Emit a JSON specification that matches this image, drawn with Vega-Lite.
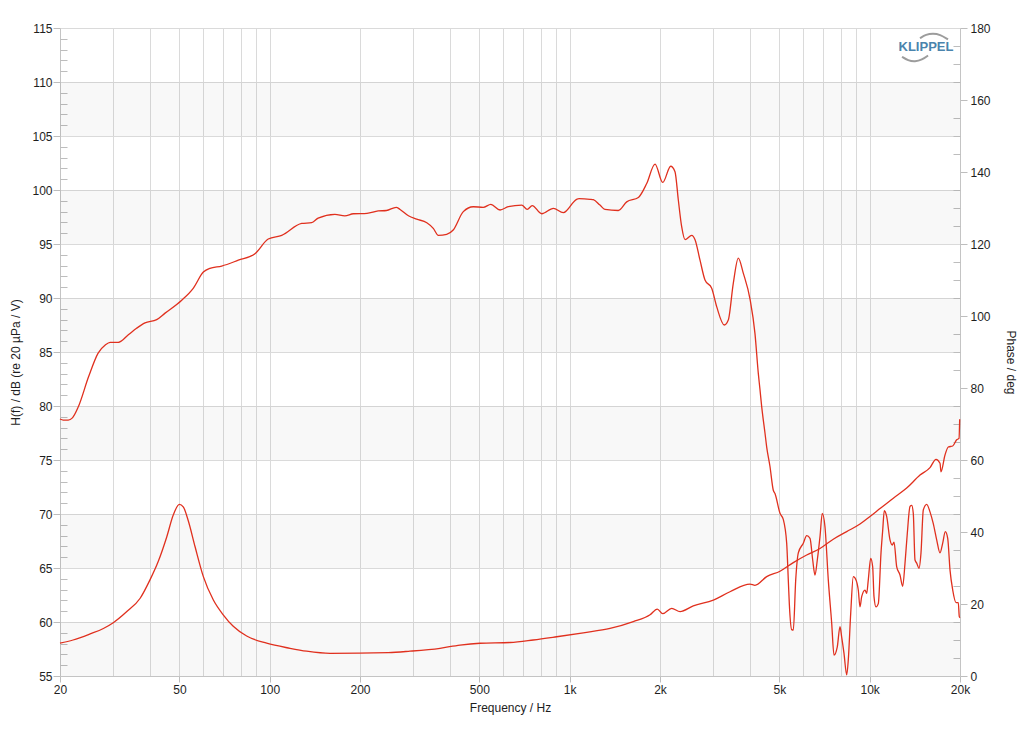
{
  "$schema": "https://vega.github.io/schema/vega-lite/v6.json",
  "width": 900,
  "height": 648,
  "autosize": {"type": "none"},
  "padding": {"left": 60, "top": 28, "right": 68, "bottom": 54},
  "background": "white",
  "config": {
    "view": {"stroke": null},
    "axis": {
      "labelFont": "Liberation Sans",
      "titleFont": "Liberation Sans",
      "labelFontSize": 12,
      "titleFontSize": 12,
      "labelColor": "#1e1e1e",
      "titleColor": "#1e1e1e",
      "titleFontWeight": "normal",
      "domainColor": "#c4c4c4",
      "tickColor": "#bdbdbd",
      "gridColor": "#dadada",
      "labelFlush": false,
      "labelOverlap": false,
      "labelBound": false
    }
  },
  "datasets": {
    "bands": [
      {"lo": 55, "hi": 60}, {"lo": 65, "hi": 70}, {"lo": 75, "hi": 80},
      {"lo": 85, "hi": 90}, {"lo": 95, "hi": 100}, {"lo": 105, "hi": 110}
    ],
    "spl": [
      {"f": 20, "db": 78.8}, {"f": 20.5, "db": 78.7}, {"f": 21.3, "db": 78.7}, {"f": 22, "db": 78.9},
      {"f": 23, "db": 79.9}, {"f": 24.9, "db": 82.7}, {"f": 26.8, "db": 84.9}, {"f": 28.3, "db": 85.65},
      {"f": 29.4, "db": 85.9}, {"f": 31.3, "db": 85.9}, {"f": 33.8, "db": 86.6}, {"f": 36, "db": 87.2},
      {"f": 38.4, "db": 87.7}, {"f": 42, "db": 88.0}, {"f": 44.8, "db": 88.6}, {"f": 50.9, "db": 89.8},
      {"f": 55.6, "db": 90.9}, {"f": 60.1, "db": 92.4}, {"f": 63.2, "db": 92.75}, {"f": 69.2, "db": 92.96},
      {"f": 78.6, "db": 93.5}, {"f": 89.3, "db": 94.1}, {"f": 98.9, "db": 95.46}, {"f": 109.7, "db": 95.8},
      {"f": 127.9, "db": 96.9}, {"f": 138, "db": 96.97}, {"f": 145, "db": 97.4}, {"f": 165, "db": 97.75},
      {"f": 178, "db": 97.6}, {"f": 190, "db": 97.8}, {"f": 211, "db": 97.84}, {"f": 230, "db": 98.06},
      {"f": 245, "db": 98.1}, {"f": 264, "db": 98.4}, {"f": 272, "db": 98.2}, {"f": 290, "db": 97.62},
      {"f": 309, "db": 97.3}, {"f": 334, "db": 96.97}, {"f": 351, "db": 96.45}, {"f": 365, "db": 95.8},
      {"f": 389, "db": 95.9}, {"f": 409, "db": 96.3}, {"f": 442, "db": 98.0}, {"f": 477, "db": 98.45},
      {"f": 515, "db": 98.4}, {"f": 546, "db": 98.67}, {"f": 586, "db": 98.15}, {"f": 624, "db": 98.45},
      {"f": 692, "db": 98.6}, {"f": 722, "db": 98.2}, {"f": 750, "db": 98.55}, {"f": 807, "db": 97.8},
      {"f": 882, "db": 98.3}, {"f": 952, "db": 97.9}, {"f": 1055, "db": 99.14}, {"f": 1074, "db": 99.2},
      {"f": 1169, "db": 99.14}, {"f": 1199, "db": 99.1}, {"f": 1262, "db": 98.6}, {"f": 1311, "db": 98.2},
      {"f": 1452, "db": 98.1}, {"f": 1549, "db": 98.9}, {"f": 1694, "db": 99.3}, {"f": 1806, "db": 100.6},
      {"f": 1925, "db": 102.4}, {"f": 2042, "db": 100.7}, {"f": 2171, "db": 102.2}, {"f": 2244, "db": 101.7},
      {"f": 2302, "db": 99.07}, {"f": 2362, "db": 96.6}, {"f": 2424, "db": 95.4}, {"f": 2552, "db": 95.8},
      {"f": 2617, "db": 95.4}, {"f": 2719, "db": 93.5}, {"f": 2825, "db": 91.67}, {"f": 2974, "db": 90.9},
      {"f": 3090, "db": 89.2}, {"f": 3276, "db": 87.5}, {"f": 3378, "db": 87.96}, {"f": 3510, "db": 91.36},
      {"f": 3648, "db": 93.7}, {"f": 3790, "db": 92.3}, {"f": 3991, "db": 89.9}, {"f": 4146, "db": 86.7},
      {"f": 4254, "db": 83.0}, {"f": 4309, "db": 81.5}, {"f": 4365, "db": 79.94}, {"f": 4477, "db": 77.5},
      {"f": 4536, "db": 76.2}, {"f": 4652, "db": 74.4}, {"f": 4772, "db": 72.2}, {"f": 4834, "db": 71.9},
      {"f": 5024, "db": 70.06}, {"f": 5152, "db": 69.5}, {"f": 5288, "db": 67.3}, {"f": 5354, "db": 63.9},
      {"f": 5396, "db": 61.7}, {"f": 5495, "db": 59.3}, {"f": 5564, "db": 59.26}, {"f": 5668, "db": 63.9},
      {"f": 5782, "db": 66.4}, {"f": 6008, "db": 67.3}, {"f": 6166, "db": 68.0}, {"f": 6325, "db": 67.75},
      {"f": 6457, "db": 65.74}, {"f": 6572, "db": 64.35}, {"f": 6689, "db": 65.74}, {"f": 6829, "db": 67.9},
      {"f": 6950, "db": 70.06}, {"f": 7096, "db": 68.8}, {"f": 7278, "db": 63.9}, {"f": 7470, "db": 59.9},
      {"f": 7604, "db": 56.94}, {"f": 7798, "db": 57.7}, {"f": 7962, "db": 59.56}, {"f": 8066, "db": 58.6},
      {"f": 8210, "db": 57.1}, {"f": 8382, "db": 55.1}, {"f": 8486, "db": 56.5}, {"f": 8644, "db": 60.8},
      {"f": 8818, "db": 64.2}, {"f": 9003, "db": 63.9}, {"f": 9162, "db": 62.96}, {"f": 9283, "db": 61.4},
      {"f": 9404, "db": 62.35}, {"f": 9646, "db": 62.96}, {"f": 9773, "db": 62.65}, {"f": 9893, "db": 63.9},
      {"f": 10078, "db": 65.9}, {"f": 10233, "db": 65.1}, {"f": 10336, "db": 62.35}, {"f": 10496, "db": 61.4},
      {"f": 10683, "db": 61.7}, {"f": 10907, "db": 66.4}, {"f": 11050, "db": 68.5}, {"f": 11187, "db": 70.3},
      {"f": 11395, "db": 69.75}, {"f": 11687, "db": 67.6}, {"f": 11894, "db": 67.13}, {"f": 12052, "db": 67.4},
      {"f": 12305, "db": 65.1}, {"f": 12619, "db": 64.35}, {"f": 12883, "db": 63.3}, {"f": 13114, "db": 65.45},
      {"f": 13346, "db": 68.2}, {"f": 13626, "db": 70.7}, {"f": 13804, "db": 70.8}, {"f": 13974, "db": 70.06},
      {"f": 14159, "db": 65.74}, {"f": 14346, "db": 65.45}, {"f": 14600, "db": 64.97}, {"f": 14826, "db": 66.4},
      {"f": 15091, "db": 70.37}, {"f": 15490, "db": 70.9}, {"f": 15887, "db": 70.2}, {"f": 16293, "db": 69.1},
      {"f": 16724, "db": 67.6}, {"f": 17154, "db": 66.4}, {"f": 17514, "db": 67.3}, {"f": 17868, "db": 68.36},
      {"f": 18200, "db": 67.75}, {"f": 18525, "db": 64.8}, {"f": 18914, "db": 62.96}, {"f": 19398, "db": 61.8},
      {"f": 19740, "db": 61.8}, {"f": 19894, "db": 60.5}, {"f": 20000, "db": 60.4}
    ],
    "imp": [
      {"f": 20, "deg": 9.1}, {"f": 22.1, "deg": 10.0}, {"f": 25.2, "deg": 11.7}, {"f": 27.9, "deg": 13.2},
      {"f": 30.1, "deg": 14.8}, {"f": 33.4, "deg": 17.9}, {"f": 37, "deg": 21.6}, {"f": 39.9, "deg": 26.7},
      {"f": 42.5, "deg": 31.8}, {"f": 45.4, "deg": 38.7}, {"f": 47.7, "deg": 44.7}, {"f": 50, "deg": 47.7},
      {"f": 51.5, "deg": 47.0}, {"f": 53.5, "deg": 43.2}, {"f": 56.4, "deg": 35.9}, {"f": 60.1, "deg": 27.6},
      {"f": 64.9, "deg": 21.1}, {"f": 70, "deg": 17.0}, {"f": 75.6, "deg": 13.8}, {"f": 83.8, "deg": 11.1},
      {"f": 97.7, "deg": 9.1}, {"f": 116.9, "deg": 7.7}, {"f": 132.8, "deg": 6.9}, {"f": 158.9, "deg": 6.3},
      {"f": 248.6, "deg": 6.5}, {"f": 293.6, "deg": 6.9}, {"f": 369.6, "deg": 7.7}, {"f": 430.9, "deg": 8.6},
      {"f": 502.4, "deg": 9.1}, {"f": 632.5, "deg": 9.3}, {"f": 756.2, "deg": 10.0}, {"f": 905.2, "deg": 10.9},
      {"f": 1110, "deg": 12.0}, {"f": 1363, "deg": 13.2}, {"f": 1629, "deg": 15.1}, {"f": 1853, "deg": 17.0},
      {"f": 1959, "deg": 18.6}, {"f": 2042, "deg": 17.3}, {"f": 2188, "deg": 18.8}, {"f": 2333, "deg": 17.9},
      {"f": 2582, "deg": 19.5}, {"f": 3012, "deg": 21.1}, {"f": 3422, "deg": 23.4}, {"f": 3991, "deg": 25.5},
      {"f": 4146, "deg": 25.2}, {"f": 4536, "deg": 27.6}, {"f": 5024, "deg": 29.1}, {"f": 5564, "deg": 31.5},
      {"f": 6166, "deg": 33.6}, {"f": 6829, "deg": 35.4}, {"f": 7562, "deg": 38.0}, {"f": 8382, "deg": 40.1},
      {"f": 9283, "deg": 42.2}, {"f": 10024, "deg": 44.3}, {"f": 10823, "deg": 46.5}, {"f": 11990, "deg": 49.4},
      {"f": 13284, "deg": 52.2}, {"f": 14712, "deg": 55.8}, {"f": 15887, "deg": 57.9}, {"f": 16636, "deg": 60.2},
      {"f": 17154, "deg": 59.1}, {"f": 17286, "deg": 56.7}, {"f": 17825, "deg": 61.4}, {"f": 18281, "deg": 63.6},
      {"f": 18914, "deg": 63.9}, {"f": 19500, "deg": 65.6}, {"f": 19848, "deg": 66.0}, {"f": 19950, "deg": 71.3}
    ],
    "logo": [{"f": 15405, "deg": 174.6, "t": "KLIPPEL"}],
    "arcs": [
      {"g": "up", "f": 14712, "db": 114.05}, {"g": "up", "f": 15405, "db": 114.4}, {"g": "up", "f": 16255, "db": 114.5},
      {"g": "up", "f": 17154, "db": 114.4}, {"g": "up", "f": 18240, "db": 113.95},
      {"g": "lo", "f": 12816, "db": 112.34}, {"g": "lo", "f": 13420, "db": 111.99}, {"g": "lo", "f": 14159, "db": 111.88},
      {"g": "lo", "f": 14940, "db": 112.06}, {"g": "lo", "f": 15650, "db": 112.45}
    ]
  },
  "resolve": {"scale": {"y": "independent"}, "axis": {"y": "independent"}},
  "layer": [
    {
      "data": {"name": "bands"},
      "mark": {"type": "rect", "fill": "#000000", "fillOpacity": 0.028},
      "encoding": {
        "y": {
          "field": "lo", "type": "quantitative",
          "scale": {"domain": [55, 115], "nice": false, "zero": false},
          "axis": {
            "orient": "left",
            "values": [55, 60, 65, 70, 75, 80, 85, 90, 95, 100, 105, 110, 115],
            "grid": true, "tickSize": 7, "labelPadding": 1,
            "title": "H(f) / dB (re 20 µPa / V)",
            "titleX": -45, "titleY": 334, "titleBaseline": "middle", "titleAngle": -90, "titleAlign": "center"
          }
        },
        "y2": {"field": "hi"}
      }
    },
    {
      "data": {"name": "spl"},
      "mark": {"type": "line", "color": "#e0301e", "strokeWidth": 1.3, "interpolate": "monotone"},
      "encoding": {
        "x": {
          "field": "f", "type": "quantitative",
          "scale": {"type": "log", "domain": [20, 20000], "nice": false},
          "axis": {
            "values": [20, 30, 40, 50, 60, 70, 80, 90, 100, 200, 300, 400, 500, 600, 700, 800, 900, 1000, 2000, 3000, 4000, 5000, 6000, 7000, 8000, 9000, 10000, 20000],
            "labelExpr": "indexof([20,50,100,200,500],datum.value)>=0 ? datum.value+'' : (indexof([1000,2000,5000,10000,20000],datum.value)>=0 ? (datum.value/1000)+'k' : '')",
            "grid": true, "tickSize": 6, "labelPadding": 2,
            "tickOpacity": {"condition": {"test": "indexof([20,50,100,200,500,1000,2000,5000,10000,20000],datum.value)>=0", "value": 1}, "value": 0},
            "title": "Frequency / Hz", "titlePadding": 7
          }
        },
        "y": {
          "field": "db", "type": "quantitative",
          "scale": {"domain": [55, 115], "nice": false, "zero": false},
          "axis": {
            "orient": "left",
            "values": [56, 57, 58, 59, 61, 62, 63, 64, 66, 67, 68, 69, 71, 72, 73, 74, 76, 77, 78, 79, 81, 82, 83, 84, 86, 87, 88, 89, 91, 92, 93, 94, 96, 97, 98, 99, 101, 102, 103, 104, 106, 107, 108, 109, 111, 112, 113, 114],
            "tickSize": -7, "labels": false, "domain": false, "grid": false, "title": null
          }
        }
      }
    },
    {
      "data": {"name": "imp"},
      "mark": {"type": "line", "color": "#e0301e", "strokeWidth": 1.3, "interpolate": "monotone"},
      "encoding": {
        "x": {"field": "f", "type": "quantitative", "scale": {"type": "log", "domain": [20, 20000], "nice": false}},
        "y": {
          "field": "deg", "type": "quantitative",
          "scale": {"domain": [0, 180], "nice": false, "zero": false},
          "axis": {
            "orient": "right",
            "values": [0, 20, 40, 60, 80, 100, 120, 140, 160, 180],
            "grid": false, "tickSize": 7, "labelPadding": 3,
            "title": "Phase / deg", "titleAngle": 90, "titleX": 50, "titleY": 334, "titleBaseline": "middle", "titleAlign": "center"
          }
        }
      }
    },
    {
      "data": {"name": "logo"},
      "mark": {"type": "text", "font": "Liberation Sans", "fontWeight": "bold", "fontSize": 13, "color": "#4a84ad"},
      "encoding": {
        "x": {"field": "f", "type": "quantitative", "scale": {"type": "log", "domain": [20, 20000], "nice": false}},
        "y": {
          "field": "deg", "type": "quantitative",
          "scale": {"domain": [0, 180], "nice": false, "zero": false},
          "axis": {
            "orient": "right",
            "values": [5, 10, 15, 25, 30, 35, 45, 50, 55, 65, 70, 75, 85, 90, 95, 105, 110, 115, 125, 130, 135, 145, 150, 155, 165, 170, 175],
            "tickSize": -7, "labels": false, "domain": false, "grid": false, "title": null
          }
        },
        "text": {"field": "t"}
      }
    },
    {
      "data": {"name": "arcs"},
      "mark": {"type": "line", "color": "#9c9c9c", "strokeWidth": 2, "interpolate": "basis"},
      "encoding": {
        "x": {"field": "f", "type": "quantitative", "scale": {"type": "log", "domain": [20, 20000], "nice": false}},
        "y": {"field": "db", "type": "quantitative", "scale": {"domain": [55, 115], "nice": false, "zero": false}, "axis": null},
        "detail": {"field": "g"}
      }
    }
  ]
}
